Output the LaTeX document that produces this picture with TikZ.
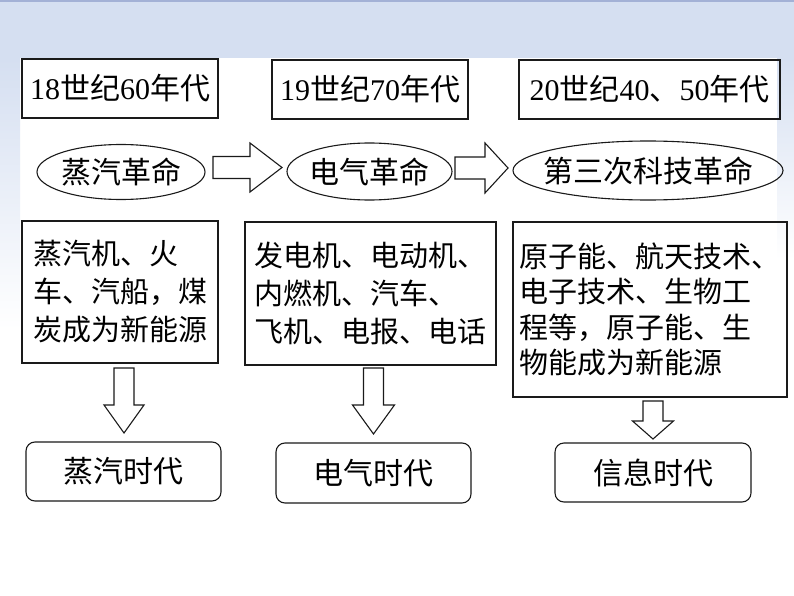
\documentclass[tikz,border=0pt]{standalone}
\usepackage{fontspec}
\setmainfont{Liberation Serif}
\newfontfamily\cjk{Noto Sans CJK SC}
\usetikzlibrary{shapes.geometric,calc}
\definecolor{bandc}{HTML}{D5DFF1}
\definecolor{topln}{HTML}{A3B1D6}
\definecolor{inkc}{HTML}{1A1A1A}
\newcommand\dg[1]{{\rmfamily #1}}
\newcommand\harrow[5]{\draw[blockarrow] let \p1=(#1), \p2=(#2) in (\x1,\y1+#3) -- (\x2-#5,\y1+#3) -- (\x2-#5,\y1+#4) -- (\x2,\y1) -- (\x2-#5,\y1-#4) -- (\x2-#5,\y1-#3) -- (\x1,\y1-#3) -- cycle;}
\newcommand\varrow[5]{\draw[blockarrow] let \p1=(#1), \p2=(#2) in (\x1-#3,\y1) -- (\x1-#3,\y2+#5) -- (\x1-#4,\y2+#5) -- (\x1,\y2) -- (\x1+#4,\y2+#5) -- (\x1+#3,\y2+#5) -- (\x1+#3,\y1) -- cycle;}
\begin{document}
\begin{tikzpicture}[x=1pt,y=-1pt,
  tbox/.style={draw=inkc, line width=1.3pt, rectangle, inner sep=0pt, font={\cjk\fontsize{30}{36}\selectfont}},
  mbox/.style={draw=inkc, line width=1.3pt, rectangle, inner sep=0pt, align=left, font={\cjk\fontsize{29}{38}\selectfont}},
  rbox/.style={draw=inkc, line width=1.1pt, rectangle, rounded corners=9pt, inner sep=0pt, font={\cjk\fontsize{30}{36}\selectfont}},
  oval/.style={draw=inkc, line width=1.1pt, ellipse, inner sep=0pt, label={[font={\cjk\fontsize{30}{36}\selectfont}]center:#1}},
  blockarrow/.style={draw=inkc, line width=1.1pt, fill=white, line join=miter}]
\useasboundingbox (0,0) rectangle (794,596);
\fill[white] (0,0) rectangle (794,596);
\shade[top color=bandc, bottom color=white] (0,58) rectangle (20,330);
\shade[top color=bandc, bottom color=white] (777,58) rectangle (794,260);
\fill[bandc] (0,0) rectangle (794,58);
\fill[topln] (0,0) rectangle (794,2);

% top boxes
\node[tbox, minimum width=196, minimum height=59] (t1) at (120,88.5) {\dg{18}世纪\dg{60}年代};
\node[tbox, minimum width=196, minimum height=59] (t2) at (370,89.5) {\dg{19}世纪\dg{70}年代};
\node[tbox, minimum width=261, minimum height=59] (t3) at (649.5,89.5) {\dg{20}世纪\dg{40}、\dg{50}年代};

% ellipses
\node[oval={蒸汽革命}, minimum width=168, minimum height=55] (e1) at (121,172) {};
\node[oval={电气革命}, minimum width=165, minimum height=57] (e2) at (369.5,171.5) {};
\node[oval={第三次科技革命}, minimum width=270, minimum height=59] (e3) at (648,170.5) {};

% horizontal block arrows
\coordinate (h1s) at (213,167.5);
\coordinate (h1e) at (282,167.5);
\coordinate (h2s) at (455,168);
\coordinate (h2e) at (508,168);
\harrow{h1s}{h1e}{11pt}{24.5pt}{32pt}
\harrow{h2s}{h2e}{11pt}{25pt}{23pt}

% middle boxes
\node[mbox, minimum width=196, minimum height=142] (m1) at (120,292) {蒸汽机、火\\车、汽船，煤\\炭成为新能源};
\node[mbox, minimum width=251, minimum height=143] (m2) at (370.5,293.5) {发电机、电动机、\\内燃机、汽车、\\飞机、电报、电话};
\node[mbox, minimum width=274, minimum height=175, font={\cjk\fontsize{29}{35.5}\selectfont}] (m3) at (650,309.5) {原子能、航天技术、\\电子技术、生物工\\程等，原子能、生\\物能成为新能源};

% down block arrows
\coordinate (v1s) at (124,368);
\coordinate (v1e) at (124,433);
\coordinate (v2s) at (373.5,368);
\coordinate (v2e) at (373.5,434);
\coordinate (v3s) at (653,401);
\coordinate (v3e) at (653,439);
\varrow{v1s}{v1e}{10pt}{20pt}{28pt}
\varrow{v2s}{v2e}{10pt}{21pt}{29pt}
\varrow{v3s}{v3e}{10pt}{20.5pt}{18pt}

% bottom rounded boxes
\node[rbox, minimum width=195, minimum height=59] (b1) at (123.5,471.5) {蒸汽时代};
\node[rbox, minimum width=195, minimum height=60] (b2) at (373.5,473) {电气时代};
\node[rbox, minimum width=196, minimum height=59] (b3) at (653,472.5) {信息时代};
\end{tikzpicture}
\end{document}
